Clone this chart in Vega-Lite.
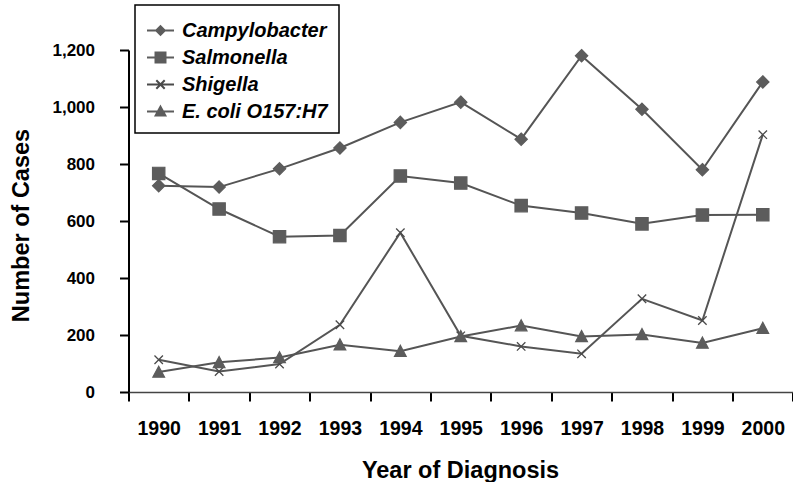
{
  "$schema": "https://vega.github.io/schema/vega-lite/v6.json",
  "autosize": {"type": "none"},
  "padding": {"left": 128.5, "top": 50, "right": 0, "bottom": 90},
  "width": 664.5,
  "height": 342,
  "background": "white",
  "config": {
    "font": "Liberation Sans",
    "view": {"stroke": null},
    "axis": {"grid": false, "labelColor": "black", "titleColor": "black"},
    "legend": {"strokeWidth": 1.5}
  },
  "data": {
    "values": [
      {"year": "1990", "series": "Campylobacter", "cases": 724},
      {"year": "1991", "series": "Campylobacter", "cases": 719},
      {"year": "1992", "series": "Campylobacter", "cases": 783},
      {"year": "1993", "series": "Campylobacter", "cases": 856},
      {"year": "1994", "series": "Campylobacter", "cases": 946},
      {"year": "1995", "series": "Campylobacter", "cases": 1017},
      {"year": "1996", "series": "Campylobacter", "cases": 887},
      {"year": "1997", "series": "Campylobacter", "cases": 1180},
      {"year": "1998", "series": "Campylobacter", "cases": 992},
      {"year": "1999", "series": "Campylobacter", "cases": 780},
      {"year": "2000", "series": "Campylobacter", "cases": 1088},
      {"year": "1990", "series": "Salmonella", "cases": 767},
      {"year": "1991", "series": "Salmonella", "cases": 642},
      {"year": "1992", "series": "Salmonella", "cases": 545},
      {"year": "1993", "series": "Salmonella", "cases": 549},
      {"year": "1994", "series": "Salmonella", "cases": 758},
      {"year": "1995", "series": "Salmonella", "cases": 733},
      {"year": "1996", "series": "Salmonella", "cases": 654},
      {"year": "1997", "series": "Salmonella", "cases": 628},
      {"year": "1998", "series": "Salmonella", "cases": 590},
      {"year": "1999", "series": "Salmonella", "cases": 621},
      {"year": "2000", "series": "Salmonella", "cases": 622},
      {"year": "1990", "series": "Shigella", "cases": 113},
      {"year": "1991", "series": "Shigella", "cases": 72},
      {"year": "1992", "series": "Shigella", "cases": 98},
      {"year": "1993", "series": "Shigella", "cases": 236},
      {"year": "1994", "series": "Shigella", "cases": 559},
      {"year": "1995", "series": "Shigella", "cases": 197},
      {"year": "1996", "series": "Shigella", "cases": 160},
      {"year": "1997", "series": "Shigella", "cases": 134},
      {"year": "1998", "series": "Shigella", "cases": 327},
      {"year": "1999", "series": "Shigella", "cases": 251},
      {"year": "2000", "series": "Shigella", "cases": 903},
      {"year": "1990", "series": "E. coli O157:H7", "cases": 70},
      {"year": "1991", "series": "E. coli O157:H7", "cases": 104},
      {"year": "1992", "series": "E. coli O157:H7", "cases": 121},
      {"year": "1993", "series": "E. coli O157:H7", "cases": 166},
      {"year": "1994", "series": "E. coli O157:H7", "cases": 143},
      {"year": "1995", "series": "E. coli O157:H7", "cases": 195},
      {"year": "1996", "series": "E. coli O157:H7", "cases": 233},
      {"year": "1997", "series": "E. coli O157:H7", "cases": 195},
      {"year": "1998", "series": "E. coli O157:H7", "cases": 202},
      {"year": "1999", "series": "E. coli O157:H7", "cases": 172},
      {"year": "2000", "series": "E. coli O157:H7", "cases": 224}
    ]
  },
  "encoding": {
    "x": {
      "field": "year",
      "type": "ordinal",
      "bandPosition": 0.5,
      "scale": {"type": "band", "paddingInner": 0, "paddingOuter": 0},
      "axis": {
        "title": "Year of Diagnosis",
        "tickBand": "extent",
        "labelAngle": 0,
        "labelFontSize": 19.5,
        "labelFontWeight": "bold",
        "labelPadding": 18,
        "tickSize": 9,
        "tickWidth": 2,
        "tickColor": "black",
        "domainColor": "#444444",
        "domainWidth": 1.5,
        "titleFontSize": 23.5,
        "titleFontWeight": "bold",
        "titleX": 331.5,
        "titleY": 85,
        "titleBaseline": "alphabetic",
        "titleAlign": "center"
      }
    },
    "y": {
      "field": "cases",
      "type": "quantitative",
      "scale": {"domain": [0, 1200], "nice": false},
      "axis": {
        "title": "Number of Cases",
        "values": [0, 200, 400, 600, 800, 1000, 1200],
        "format": ",d",
        "labelFontSize": 17,
        "labelFontWeight": "bold",
        "labelPadding": 25,
        "tickSize": 9,
        "tickWidth": 2,
        "tickColor": "black",
        "domainColor": "black",
        "domainWidth": 2,
        "titleFontSize": 23.5,
        "titleFontWeight": "bold",
        "titleX": -100.5,
        "titleY": 175,
        "titleAngle": -90,
        "titleBaseline": "alphabetic",
        "titleAlign": "center"
      }
    }
  },
  "layer": [
    {
      "mark": {"type": "line", "color": "#555555", "strokeWidth": 2},
      "encoding": {"detail": {"field": "series", "type": "nominal"}}
    },
    {
      "transform": [{"filter": {"field": "series", "equal": "Campylobacter"}}],
      "mark": {"type": "point", "shape": "M0,-0.95L0.95,0L0,0.95L-0.95,0Z", "filled": true, "color": "#5c5c5c", "stroke": "#5c5c5c", "strokeWidth": 1.2, "size": 169, "opacity": 1}
    },
    {
      "transform": [{"filter": {"field": "series", "equal": "Salmonella"}}],
      "mark": {"type": "point", "shape": "M-0.95,-0.95H0.95V0.95H-0.95Z", "filled": true, "color": "#5c5c5c", "stroke": "#5c5c5c", "strokeWidth": 1.2, "size": 169, "opacity": 1}
    },
    {
      "transform": [{"filter": {"field": "series", "equal": "Shigella"}}],
      "mark": {"type": "point", "shape": "M-0.65,-0.65L0.65,0.65M-0.65,0.65L0.65,-0.65", "filled": true, "color": "#4a4a4a", "stroke": "#4a4a4a", "strokeWidth": 1.3, "size": 169, "opacity": 1}
    },
    {
      "transform": [{"filter": {"field": "series", "equal": "E. coli O157:H7"}}],
      "mark": {"type": "point", "shape": "M0,-0.9L0.9,0.8L-0.9,0.8Z", "filled": true, "color": "#5c5c5c", "stroke": "#5c5c5c", "strokeWidth": 1.2, "size": 169, "opacity": 1}
    },
    {
      "transform": [{"filter": "datum.cases < 0"}],
      "mark": {"type": "point", "strokeWidth": 2, "size": 729},
      "encoding": {
        "shape": {
          "field": "series",
          "type": "nominal",
          "scale": {
            "domain": ["Campylobacter", "Salmonella", "Shigella", "E. coli O157:H7"],
            "range": [
              "M-1,0H1M0,-0.32L0.32,0L0,0.32L-0.32,0Z",
              "M-1,0H1M-0.37,-0.37H0.37V0.37H-0.37Z",
              "M-1,0H1M-0.31,-0.31L0.31,0.31M-0.31,0.31L0.31,-0.31",
              "M-1,0H1M0,-0.36L0.36,0.3L-0.36,0.3Z"
            ]
          },
          "legend": {
            "orient": "none", "legendX": 6.5, "legendY": -45, "title": null,
            "labelFontSize": 20, "labelFontStyle": "italic", "labelFontWeight": "bold", "labelColor": "black",
            "labelOffset": 7, "labelLimit": 300, "labelExpr": "datum.label + ' '",
            "symbolSize": 729, "symbolStrokeWidth": 2, "symbolOpacity": 1,
            "padding": 11, "rowPadding": 2, "strokeColor": "black", "fillColor": "white"
          }
        },
        "fill": {
          "field": "series",
          "type": "nominal",
          "scale": {
            "domain": ["Campylobacter", "Salmonella", "Shigella", "E. coli O157:H7"],
            "range": ["#5c5c5c", "#5c5c5c", "#5c5c5c", "#5c5c5c"]
          },
          "legend": {
            "orient": "none", "legendX": 6.5, "legendY": -45, "title": null,
            "labelFontSize": 20, "labelFontStyle": "italic", "labelFontWeight": "bold", "labelColor": "black",
            "labelOffset": 7, "labelLimit": 300, "labelExpr": "datum.label + ' '",
            "symbolSize": 729, "symbolStrokeWidth": 2, "symbolOpacity": 1,
            "padding": 11, "rowPadding": 2, "strokeColor": "black", "fillColor": "white"
          }
        },
        "stroke": {
          "field": "series",
          "type": "nominal",
          "scale": {
            "domain": ["Campylobacter", "Salmonella", "Shigella", "E. coli O157:H7"],
            "range": ["#5c5c5c", "#5c5c5c", "#4a4a4a", "#5c5c5c"]
          },
          "legend": {
            "orient": "none", "legendX": 6.5, "legendY": -45, "title": null,
            "labelFontSize": 20, "labelFontStyle": "italic", "labelFontWeight": "bold", "labelColor": "black",
            "labelOffset": 7, "labelLimit": 300, "labelExpr": "datum.label + ' '",
            "symbolSize": 729, "symbolStrokeWidth": 2, "symbolOpacity": 1,
            "padding": 11, "rowPadding": 2, "strokeColor": "black", "fillColor": "white"
          }
        }
      }
    }
  ]
}
